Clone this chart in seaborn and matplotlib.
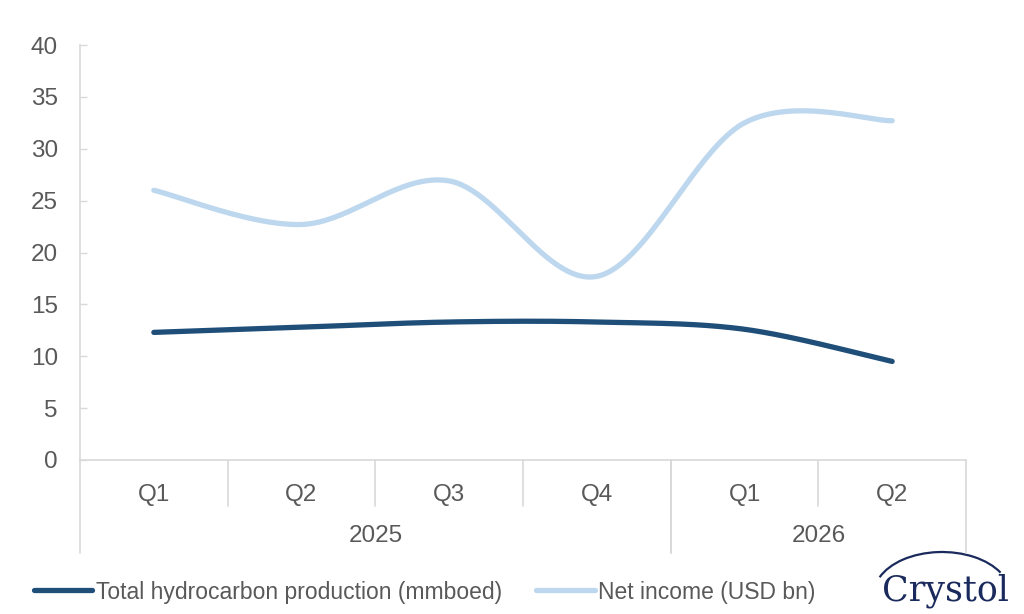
import numpy as np
import matplotlib
matplotlib.use('Agg')
import matplotlib.pyplot as plt
import matplotlib.transforms as mtransforms
from matplotlib.patches import Arc
import seaborn as sns

# data
quarters = ['Q1', 'Q2', 'Q3', 'Q4', 'Q1', 'Q2']
years = ['2025', '2026']
year_span = [(0, 3), (4, 5)]  # first / last quarter index of each year
production = [12.3, 12.8, 13.3, 13.3, 12.6, 9.5]   # mmboed
net_income = [26.0, 22.7, 26.9, 17.7, 32.5, 32.7]  # USD bn

DARK = '#1F4E79'
LIGHT = '#BDD7EE'
GREY_TXT = '#595959'
GREY_LN = '#D9D9D9'
NAVY = '#1B2A5C'


def excel_smooth(y, n=60):
    # bezier smoothing like the "smoothed line" option in Excel
    y = np.asarray(y, dtype=float)
    x = np.arange(len(y), dtype=float)
    xs, ys = [], []
    for i in range(len(y) - 1):
        p0 = (x[i - 1], y[i - 1]) if i > 0 else (x[i], y[i])
        p1 = (x[i], y[i])
        p2 = (x[i + 1], y[i + 1])
        p3 = (x[i + 2], y[i + 2]) if i + 2 < len(y) else (x[i + 1], y[i + 1])
        c1 = (p1[0] + (p2[0] - p0[0]) / 6, p1[1] + (p2[1] - p0[1]) / 6)
        c2 = (p2[0] - (p3[0] - p1[0]) / 6, p2[1] - (p3[1] - p1[1]) / 6)
        t = np.linspace(0, 1, n)
        for k in range(2):
            b = ((1 - t) ** 3 * p1[k] + 3 * (1 - t) ** 2 * t * c1[k]
                 + 3 * (1 - t) * t ** 2 * c2[k] + t ** 3 * p2[k])
            (xs if k == 0 else ys).append(b)
    return np.concatenate(xs), np.concatenate(ys)


sns.set_theme(style='white')
plt.rcParams['font.family'] = ['Liberation Sans', 'DejaVu Sans']

fig = plt.figure(figsize=(10.24, 6.14), dpi=100)
ax = fig.add_axes([80 / 1024, 1 - 460 / 614, 886 / 1024, 415 / 614])

for vals, col, lab in [(production, DARK, 'Total hydrocarbon production (mmboed)'),
                       (net_income, LIGHT, 'Net income (USD bn)')]:
    xs, ys = excel_smooth(vals)
    sns.lineplot(x=xs, y=ys, sort=False, color=col, lw=3.8, ax=ax, label=lab,
                 solid_capstyle='round', estimator=None)

ax.set_xlim(-0.5, len(quarters) - 0.5)
ax.set_ylim(0, 40)
ax.set_yticks(range(0, 41, 5))
ax.tick_params(axis='y', direction='in', length=5, width=1, color=GREY_LN,
               labelsize=17.5, labelcolor=GREY_TXT, pad=16, left=True)
ax.set_xticks(range(len(quarters)))
ax.set_xticklabels(quarters)
ax.tick_params(axis='x', length=0, labelsize=17.5, labelcolor=GREY_TXT, pad=17)

for s in ['top', 'right']:
    ax.spines[s].set_visible(False)
for s in ['left', 'bottom']:
    ax.spines[s].set_color(GREY_LN)
    ax.spines[s].set_linewidth(1.2)

# multi-level category axis
trans = mtransforms.blended_transform_factory(ax.transData, ax.transAxes)
for i in range(1, len(quarters)):
    ax.plot([i - 0.5, i - 0.5], [0, -0.111], transform=trans, color=GREY_LN,
            lw=1.2, clip_on=False)
for (a, b), yr in zip(year_span, years):
    for edge in (a - 0.5, b + 0.5):
        ax.plot([edge, edge], [0, -0.224], transform=trans, color=GREY_LN,
                lw=1.2, clip_on=False)
    ax.text((a + b) / 2, -0.183, yr, transform=trans, ha='center', va='center',
            fontsize=17.5, color=GREY_TXT)

ax.get_legend().remove()
fig.legend(*ax.get_legend_handles_labels(), loc='center left',
           bbox_to_anchor=(34 / 1024, 1 - 592 / 614), ncol=2, frameon=False,
           fontsize=16.5, labelcolor=GREY_TXT, handlelength=2.55, handletextpad=0.15,
           columnspacing=1.5, borderpad=0, borderaxespad=0)

# logo (pixel coordinates of the figure)
logo = fig.add_axes([0, 0, 1, 1], zorder=-1)
logo.axis('off')
logo.set_xlim(0, 1024)
logo.set_ylim(614, 0)
logo.add_patch(Arc((942, 594), 136, 84, theta1=195, theta2=340, color=NAVY, lw=1.6))
logo.text(945, 591, 'Crystol', ha='center', va='center', fontsize=25,
          color=NAVY, family='DejaVu Serif')

fig.savefig('out.png', dpi=100)
